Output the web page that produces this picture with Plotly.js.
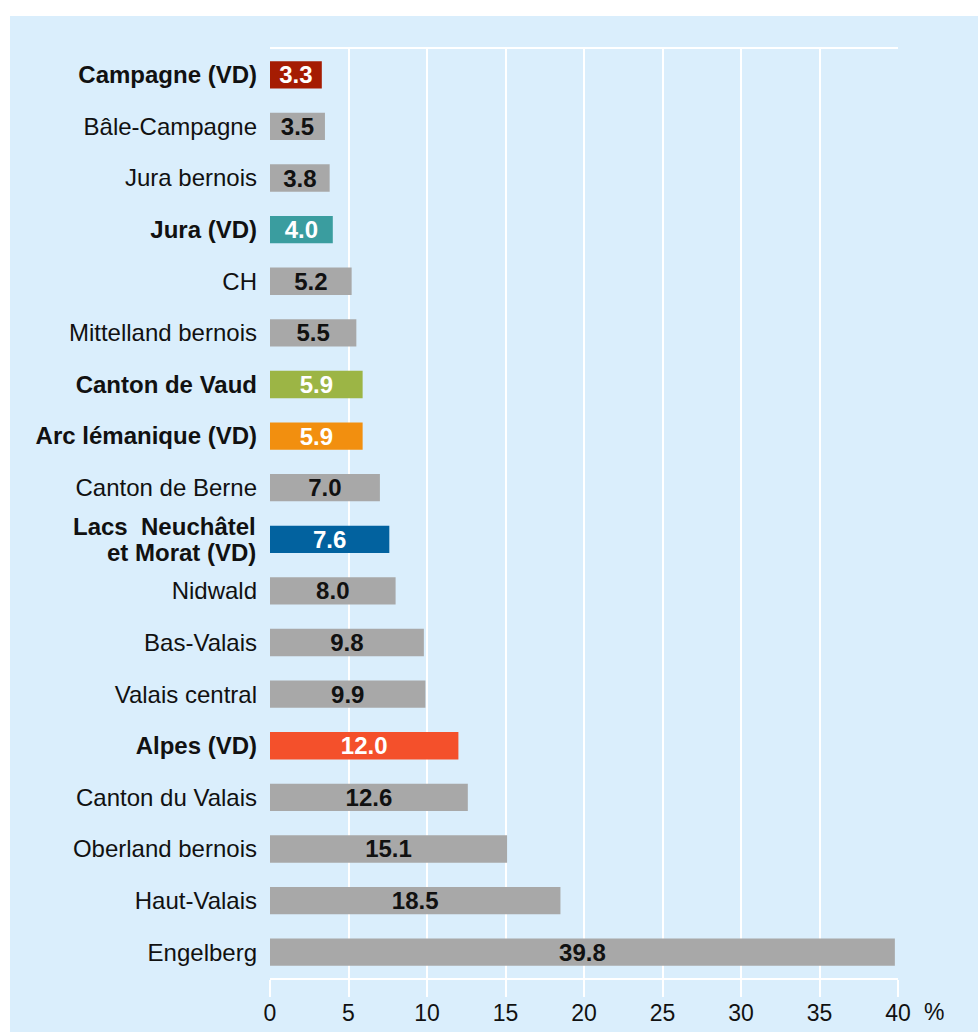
<!DOCTYPE html>
<html>
<head>
<meta charset="utf-8">
<script src="https://cdn.plot.ly/plotly-3.0.1.min.js"></script>
<style>
html,body{margin:0;padding:0;background:#ffffff;}
#chart{position:absolute;left:10px;top:16px;width:968px;height:1016px;}
</style>
</head>
<body>
<div id="chart"></div>
<script>
const categories = ["Campagne (VD)","Bâle-Campagne","Jura bernois","Jura (VD)","CH","Mittelland bernois","Canton de Vaud","Arc lémanique (VD)","Canton de Berne","Lacs  Neuchâtel et Morat (VD)","Nidwald","Bas-Valais","Valais central","Alpes (VD)","Canton du Valais","Oberland bernois","Haut-Valais","Engelberg"];
const values = [3.3,3.5,3.8,4.0,5.2,5.5,5.9,5.9,7.0,7.6,8.0,9.8,9.9,12.0,12.6,15.1,18.5,39.8];
const highlighted = ["Campagne (VD)","Jura (VD)","Canton de Vaud","Arc lémanique (VD)","Lacs  Neuchâtel et Morat (VD)","Alpes (VD)"];
const twoLineLabels = {"Lacs  Neuchâtel et Morat (VD)":["Lacs  Neuchâtel","et Morat (VD)"]};
const tickValues = [0,5,10,15,20,25,30,35,40];

const highlightColors = {
  "Campagne (VD)":"#a51c02",
  "Jura (VD)":"#3a9d9f",
  "Canton de Vaud":"#9cb545",
  "Arc lémanique (VD)":"#f28f0f",
  "Lacs  Neuchâtel et Morat (VD)":"#02629f",
  "Alpes (VD)":"#f4502b"
};
const grey = "#a8a8a8";
const FONT = "Liberation Sans, Arial, sans-serif";
const barColors = categories.map(c => highlightColors[c] || grey);
const textColors = categories.map(c => highlightColors[c] ? "#ffffff" : "#111111");
const yTickText = categories.map(c => twoLineLabels[c] ? "" : (highlighted.includes(c) ? "<b>"+c+"</b>" : c));

const annotations = [];
categories.forEach(c => {
  if (twoLineLabels[c]) {
    const lines = twoLineLabels[c];
    lines.forEach((ln, i) => {
      annotations.push({
        xref:"paper", yref:"y", x:0, y:c, xshift:-12, yshift:(i===0 ? 13 : -13),
        xanchor:"right", yanchor:"middle", showarrow:false,
        text: highlighted.includes(c) ? "<b>"+ln+"</b>" : ln,
        font:{family:FONT, size:24, color:"#111111"}
      });
    });
  }
});
annotations.push({
  xref:"paper", yref:"paper", x:1, y:0, xshift:24, yshift:-34,
  xanchor:"left", yanchor:"middle",
  text:"%", showarrow:false,
  font:{family:FONT, size:23, color:"#111111"}
});

const trace = {
  type:"bar",
  orientation:"h",
  x: values,
  y: categories,
  marker:{color:barColors, line:{width:0}},
  texttemplate:"<b>%{x:.1f}</b>",
  textposition:"inside",
  insidetextanchor:"middle",
  constraintext:"none",
  textfont:{family:FONT, size:24, color:textColors},
  hoverinfo:"none"
};

const layout = {
  width:968, height:1016,
  margin:{l:260, r:80, t:33, b:54},
  paper_bgcolor:"#daeefc",
  plot_bgcolor:"#daeefc",
  bargap:0.47,
  showlegend:false,
  font:{family:FONT, size:24, color:"#111111"},
  xaxis:{
    range:[0,40],
    tickvals:tickValues,
    ticktext:tickValues.map(String),
    showgrid:true, gridcolor:"#ffffff", gridwidth:2,
    zeroline:false,
    showline:true, linecolor:"#ffffff", linewidth:2, mirror:true,
    ticks:"outside", ticklen:17, tickwidth:2, tickcolor:"#ffffff",
    ticklabelstandoff:-4,
    tickfont:{family:FONT, size:23, color:"#111111"},
    fixedrange:true
  },
  yaxis:{
    autorange:"reversed",
    type:"category",
    tickvals:categories,
    ticktext:yTickText,
    showgrid:false, zeroline:false, showline:false,
    ticks:"", ticklabelstandoff:12,
    tickfont:{family:FONT, size:24, color:"#111111"},
    fixedrange:true
  },
  annotations:annotations
};

Plotly.newPlot("chart",[trace],layout,{displayModeBar:false, staticPlot:true});
</script>
</body>
</html>
